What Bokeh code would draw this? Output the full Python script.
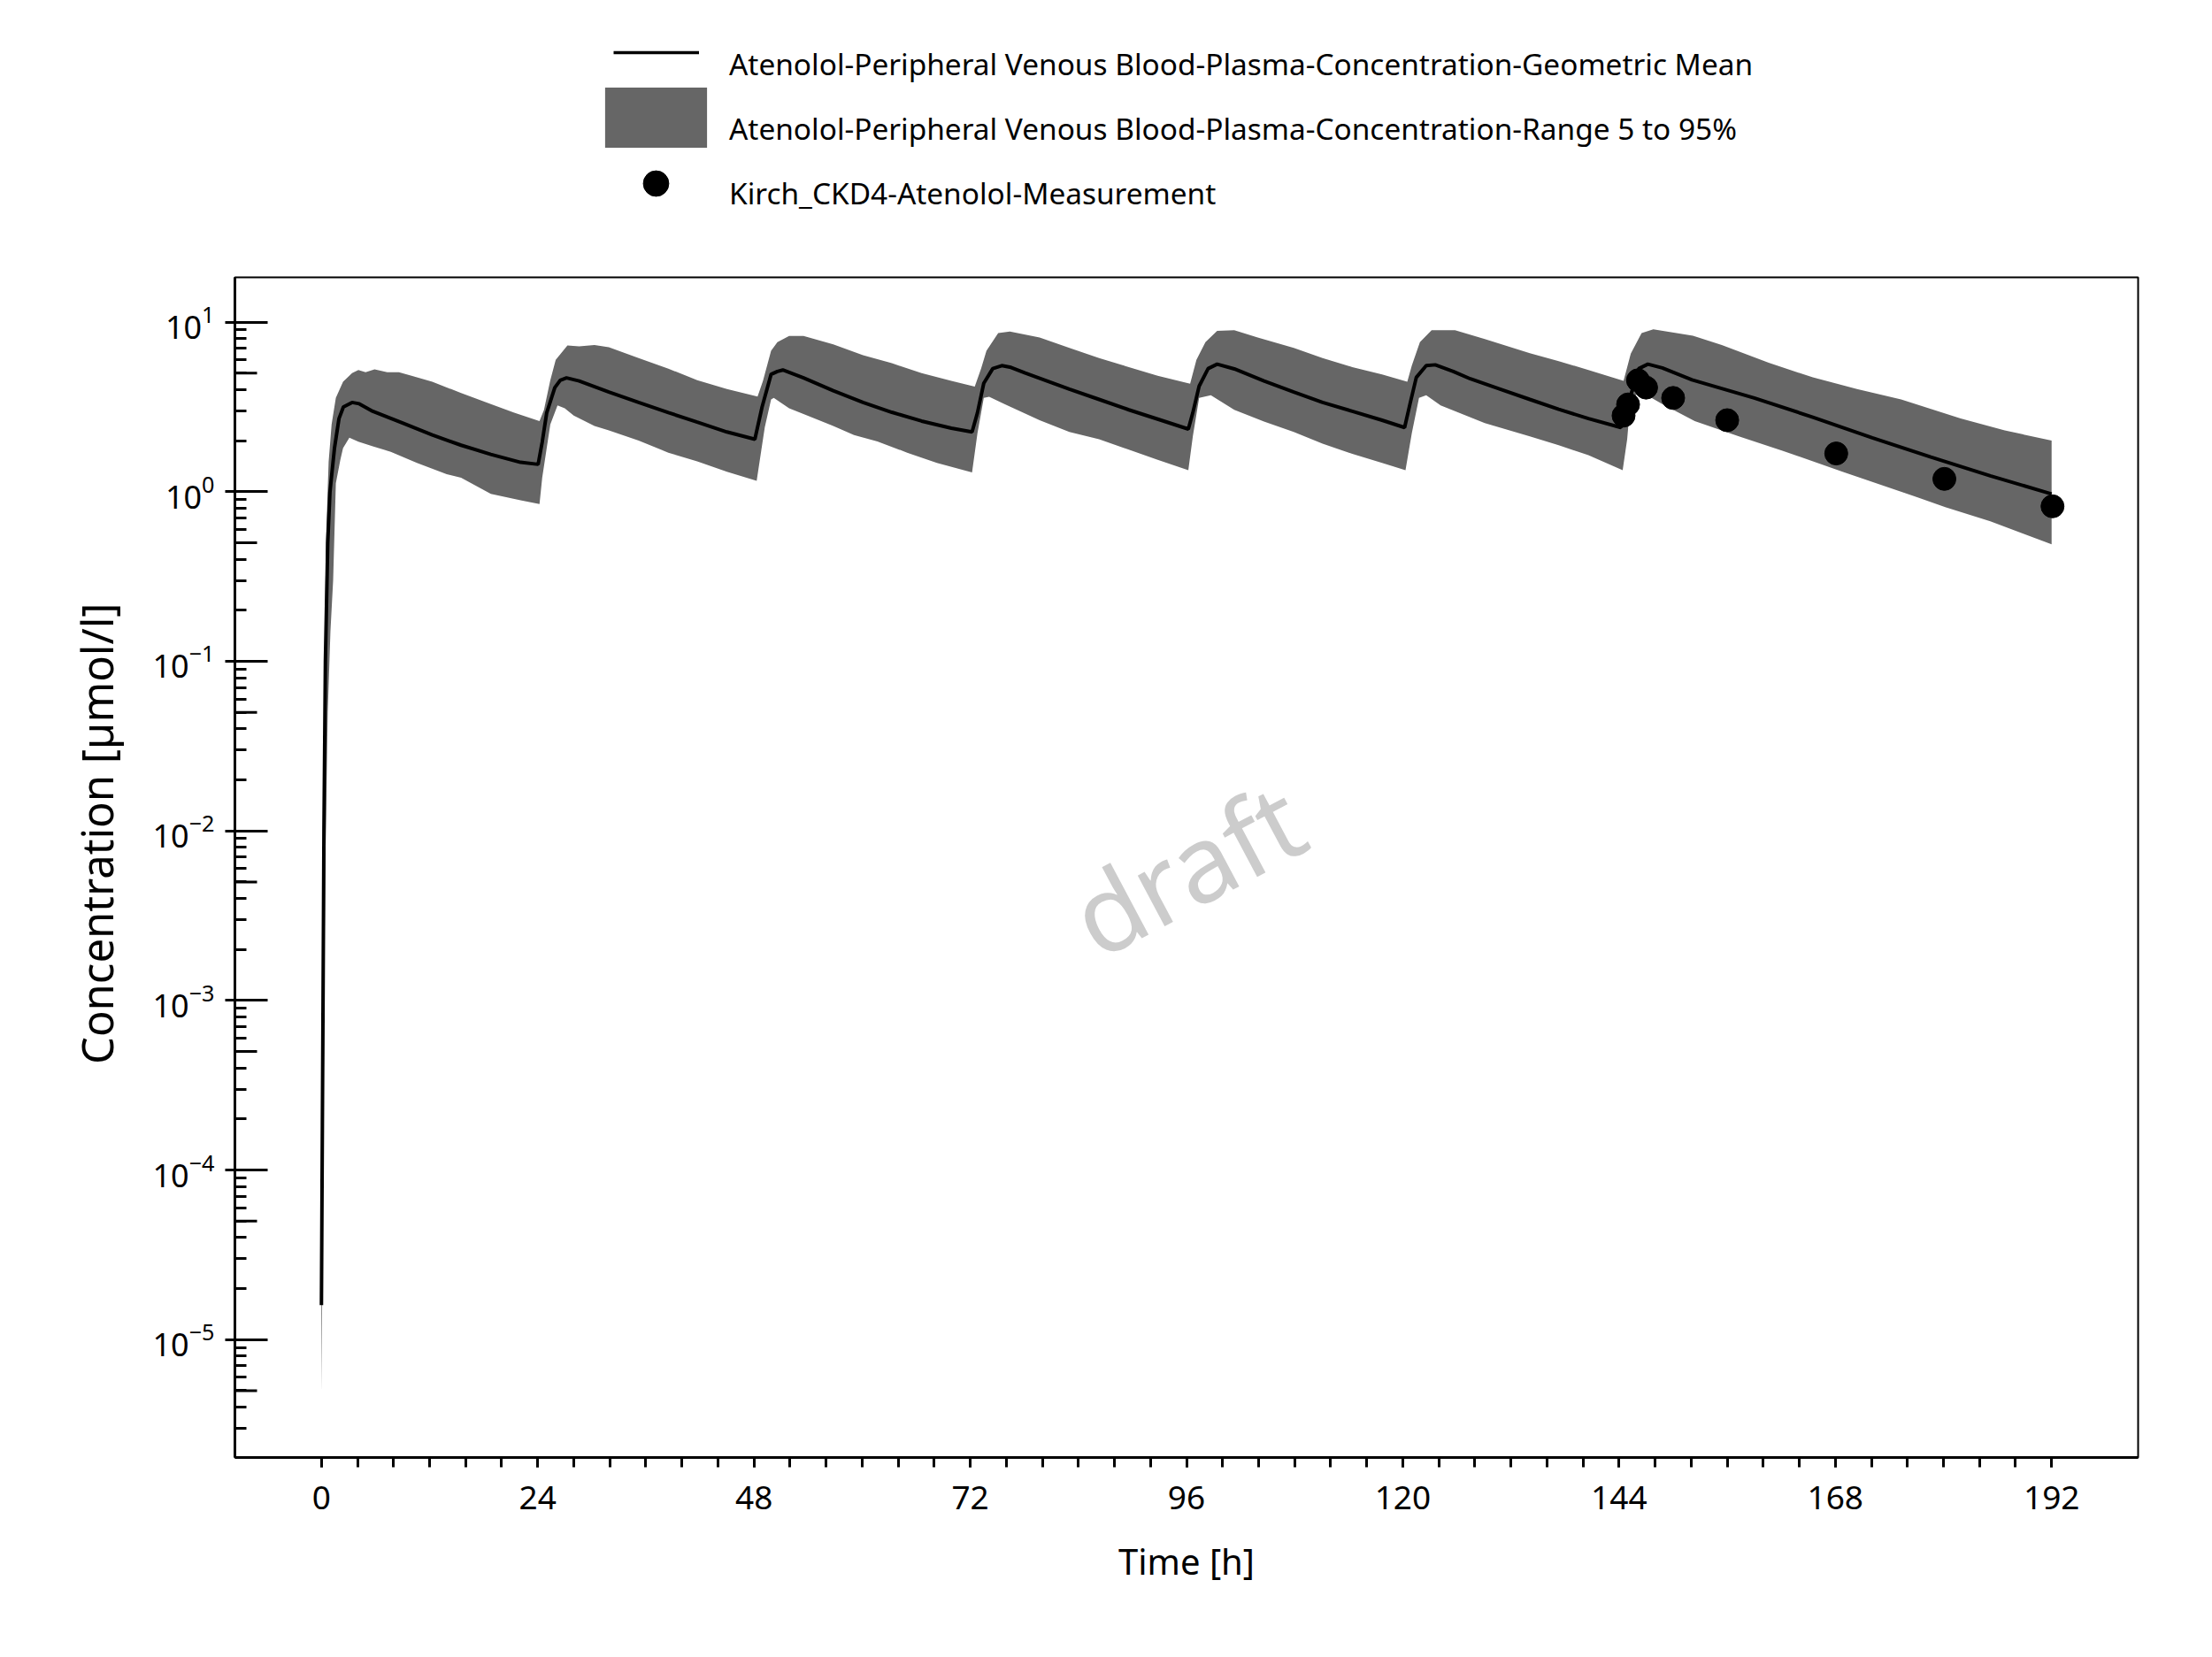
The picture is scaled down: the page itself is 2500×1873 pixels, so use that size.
from bokeh.plotting import figure
from bokeh.layouts import column
from bokeh.models import Range1d, FixedTicker, Legend, LegendItem, Label
from bokeh.embed import file_html
from bokeh.resources import INLINE

# ---------------- data ----------------
mean_t = [0, 0.18, 0.28, 0.44, 0.7, 0.95, 1.45, 1.95, 2.44, 3.4, 4.2, 5.7, 9.0, 12.3, 15.5, 18.8, 22.1, 24.05,
          24.5, 25.0, 25.9, 26.5, 27.2, 28.6, 31.9, 35.2, 38.5, 41.7, 45.0, 48.1,
          48.9, 49.9, 50.6, 51.2, 53.5, 56.8, 60.1, 63.3, 66.6, 69.9, 72.2,
          72.8, 73.5, 74.5, 75.5, 76.4, 78.1, 83.0, 86.3, 89.6, 92.8, 96.2,
          96.7, 97.4, 98.4, 99.4, 101.3, 104.6, 107.9, 111.1, 114.4, 117.7, 120.2,
          120.8, 121.5, 122.6, 123.6, 125.6, 127.5, 130.8, 134.1, 137.3, 140.6, 144.2,
          145.2, 146.2, 147.2, 148.8, 152.1, 159.0, 165.5, 172.1, 178.6, 185.2, 192.0]
mean_c = [1.6e-5, 1e-3, 1e-2, 0.1, 0.5, 1.0, 1.81, 2.70, 3.16, 3.36, 3.30, 2.98, 2.54, 2.16, 1.88, 1.66, 1.49, 1.45,
          1.96, 2.92, 4.11, 4.54, 4.69, 4.50, 3.87, 3.36, 2.93, 2.57, 2.25, 2.04,
          3.16, 4.92, 5.12, 5.22, 4.69, 3.94, 3.36, 2.94, 2.61, 2.37, 2.25,
          2.92, 4.36, 5.32, 5.54, 5.43, 5.01, 4.03, 3.50, 3.04, 2.68, 2.34,
          2.92, 4.19, 5.32, 5.65, 5.30, 4.50, 3.87, 3.36, 2.98, 2.64, 2.39,
          3.29, 4.72, 5.54, 5.60, 5.12, 4.63, 4.03, 3.50, 3.06, 2.70, 2.39,
          3.57, 5.32, 5.65, 5.37, 4.57, 3.57, 2.75, 2.08, 1.60, 1.24, 0.97]

upper_t = [0, 0.15, 0.3, 0.5, 0.8, 1.13, 1.6, 2.4, 3.4, 4.1, 4.9, 5.9, 7.3, 8.6, 10.0, 12.3, 15.5, 18.8, 21.4, 24.2,
           24.7, 25.4, 26.0, 27.3, 28.6, 30.3, 31.9, 35.2, 38.5, 41.7, 45.0, 48.4,
           49.0, 49.9, 50.6, 51.9, 53.5, 56.8, 60.1, 63.3, 66.6, 69.9, 72.5,
           73.2, 73.8, 75.1, 76.4, 79.7, 83.0, 86.3, 89.6, 92.8, 96.4,
           97.1, 98.1, 99.4, 101.3, 103.9, 107.9, 111.1, 114.4, 117.7, 120.5,
           121.0, 121.9, 123.2, 125.8, 129.1, 134.1, 137.3, 140.6, 144.5,
           145.3, 146.5, 147.8, 152.2, 155.4, 160.6, 165.5, 170.4, 175.3, 181.9, 186.8, 192.0]
upper_c = [1.8e-5, 2e-3, 0.05, 0.5, 1.5, 2.49, 3.57, 4.45, 5.01, 5.22, 5.07, 5.26, 5.06, 5.06, 4.82, 4.45, 3.82, 3.29, 2.92, 2.61,
           3.04, 4.54, 6.0, 7.28, 7.19, 7.33, 7.10, 6.13, 5.32, 4.54, 4.03, 3.64,
           4.5, 6.77, 7.63, 8.28, 8.28, 7.40, 6.38, 5.72, 5.01, 4.50, 4.16,
           5.32, 6.77, 8.61, 8.79, 8.11, 7.05, 6.13, 5.43, 4.82, 4.33,
           6.0, 7.63, 8.89, 8.97, 8.11, 7.05, 6.13, 5.43, 4.92, 4.45,
           5.54, 7.63, 8.97, 8.97, 7.95, 6.56, 5.89, 5.22, 4.50,
           6.51, 8.61, 9.07, 8.30, 7.33, 5.77, 4.72, 4.03, 3.50, 2.70, 2.30, 2.0]

lower_t = [0, 0.2, 0.4, 0.7, 1.0, 1.3, 1.6, 2.1, 2.4, 3.1, 4.1, 5.7, 7.7, 10.6, 13.9, 15.5, 18.8, 22.1, 24.2,
           24.5, 25.4, 26.2, 27.0, 28.0, 30.3, 31.9, 35.2, 38.5, 41.7, 45.0, 48.3,
           49.2, 49.9, 50.2, 51.9, 53.5, 56.8, 59.1, 61.7, 65.0, 68.3, 72.2,
           72.8, 73.5, 74.1, 75.8, 79.7, 83.0, 86.3, 89.6, 92.8, 96.2,
           96.7, 97.4, 98.7, 101.3, 104.6, 107.9, 111.1, 114.4, 117.7, 120.3,
           121.0, 121.8, 122.6, 124.2, 129.1, 134.1, 137.3, 140.6, 144.4,
           144.9, 145.3, 146.5, 148.8, 152.4, 157.3, 162.2, 168.8, 177.0, 180.2, 185.2, 192.0]
lower_c = [4.8e-6, 1e-4, 5e-3, 0.05, 0.15, 0.3, 1.12, 1.54, 1.81, 2.08, 1.97, 1.85, 1.72, 1.48, 1.27, 1.21, 0.97, 0.89, 0.845,
           1.21, 2.49, 3.23, 3.10, 2.81, 2.44, 2.30, 2.00, 1.70, 1.51, 1.31, 1.16,
           2.4, 3.50, 3.57, 3.10, 2.87, 2.44, 2.16, 1.98, 1.70, 1.48, 1.30,
           2.21, 3.57, 3.63, 3.29, 2.64, 2.25, 2.04, 1.77, 1.54, 1.34,
           2.12, 3.57, 3.71, 3.04, 2.59, 2.25, 1.92, 1.67, 1.48, 1.34,
           2.21, 3.57, 3.71, 3.23, 2.54, 2.12, 1.88, 1.64, 1.34,
           2.04, 3.57, 3.87, 3.29, 2.61, 2.12, 1.74, 1.31, 0.93, 0.81, 0.67, 0.49]

obs_t = [144.5, 145.0, 146.1, 147.0, 150.0, 156.0, 168.1, 180.1, 192.1]
obs_c = [2.81, 3.27, 4.54, 4.11, 3.57, 2.64, 1.68, 1.19, 0.82]

x_major_ticks = [0, 24, 48, 72, 96, 120, 144, 168, 192]
x_minor_ticks = list(range(0, 193, 4))
y_major_ticks = [1e-5, 1e-4, 1e-3, 1e-2, 1e-1, 1e0, 1e1]
y_minor_ticks = [m * 10.0 ** e for e in range(-6, 2) for m in range(2, 10)]
y_mid_ticks = [5 * 10.0 ** e for e in range(-6, 1)]

label_mean = "Atenolol-Peripheral Venous Blood-Plasma-Concentration-Geometric Mean"
label_band = "Atenolol-Peripheral Venous Blood-Plasma-Concentration-Range 5 to 95%"
label_obs = "Kirch_CKD4-Atenolol-Measurement"

FONT = "Noto Sans"
BAND_COLOR = "#666666"
NBSP = "\u00a0"
X0, X1 = -9.6, 201.6
LY0, LY1 = -5.695, 1.264
Y0, Y1 = 10 ** LY0, 10 ** LY1

# ---------------- main plot ----------------
p = figure(width=2480, height=1545, x_range=Range1d(X0, X1), y_range=Range1d(Y0, Y1),
           y_axis_type="log", output_backend="svg", toolbar_location=None,
           min_border_left=265, min_border_right=64, min_border_top=8, min_border_bottom=203)
p.grid.visible = False
p.outline_line_color = "black"
p.outline_line_width = 2
p.background_fill_color = "white"

band = p.patch(x=upper_t + lower_t[::-1], y=upper_c + lower_c[::-1],
               fill_color=BAND_COLOR, line_color=None)
mean = p.line(mean_t, mean_c, line_color="black", line_width=4)
obs = p.scatter(obs_t, obs_c, size=26, color="black")

# medium ticks at 5 x 10^k on the y axis
p.ray(x=[X0] * len(y_mid_ticks), y=y_mid_ticks, length=25, length_units="screen",
      angle=0, line_color="black", line_width=3)

xa = p.xaxis[0]
xa.ticker = FixedTicker(ticks=x_major_ticks, minor_ticks=x_minor_ticks)
xa.axis_label = "Time [h]"
xa.major_tick_in = 0
xa.major_tick_out = 11
xa.minor_tick_in = 0
xa.minor_tick_out = 11
xa.major_label_standoff = 21
xa.axis_label_standoff = 28
xa.axis_label_text_font_size = "40px"
xa.major_label_text_font_size = "37px"

ya = p.yaxis[0]
ya.ticker = FixedTicker(ticks=y_major_ticks, minor_ticks=y_minor_ticks)
ya.axis_label = NBSP * 6 + "Concentration [µmol/l]"
ya.major_tick_in = 37
ya.major_tick_out = 11
ya.minor_tick_in = 13
ya.minor_tick_out = 0
ya.major_label_standoff = 12
ya.axis_label_standoff = 28
ya.axis_label_text_font_size = "49px"
ya.major_label_text_font_size = "36px"

for ax in (xa, ya):
    ax.axis_line_width = 3
    ax.axis_line_color = "black"
    ax.major_tick_line_width = 3
    ax.minor_tick_line_width = 3
    ax.major_tick_line_color = "black"
    ax.minor_tick_line_color = "black"
    ax.major_label_text_font = FONT
    ax.major_label_text_color = "black"
    ax.axis_label_text_font = FONT
    ax.axis_label_text_font_style = "normal"
    ax.axis_label_text_color = "black"

p.add_layout(Label(x=(X0 + X1) / 2, y=10 ** ((LY0 + LY1) / 2), text="draft", angle=28,
                   angle_units="deg", text_align="center", text_baseline="middle",
                   text_font=FONT, text_font_size="121px", text_color="#cccccc"))

# ---------------- legend strip above the plot ----------------
lf = figure(width=2480, height=305, x_range=Range1d(0, 1), y_range=Range1d(0, 1),
            output_backend="svg", toolbar_location=None,
            x_axis_location=None, y_axis_location=None,
            min_border_left=265, min_border_right=64, min_border_top=0, min_border_bottom=0)
lf.grid.visible = False
lf.outline_line_color = None

# legend proxies: same styles as the plot renderers, one point placed outside the strip's view
OFF = [-5.0, -4.0, -4.0]
p_mean = lf.line(x=OFF[:2], y=OFF[:2], line_color="black", line_width=3.5)
p_band = lf.patch(x=OFF, y=[-5.0, -5.0, -4.0], fill_color=BAND_COLOR, line_color=None)
p_obs = lf.scatter(x=OFF[:1], y=OFF[:1], color="black")
# text-only proxies (no data, so only their labels are drawn)
t_mean = lf.line(x=[], y=[])
t_band = lf.line(x=[], y=[])
t_obs = lf.line(x=[], y=[])

COMMON = dict(padding=0, margin=0, border_line_color=None, background_fill_alpha=0,
              label_text_font=FONT, label_text_font_size="33.4px", label_text_color="black")

def glyph_legend(rend, loc, gw, gh):
    lf.add_layout(Legend(items=[LegendItem(label=" ", renderers=[rend])], location=loc,
                         glyph_width=gw, glyph_height=gh, label_standoff=0, spacing=0, **COMMON))

glyph_legend(p_mean, (428, 226), 97, 40)
glyph_legend(p_band, (404, 130), 144, 85)
glyph_legend(p_obs, (440, 62), 72, 72)

lf.add_layout(Legend(items=[LegendItem(label=label_mean, renderers=[t_mean]),
                            LegendItem(label=label_band, renderers=[t_band]),
                            LegendItem(label=label_obs, renderers=[t_obs])],
                     location=(559, 57), glyph_width=0, glyph_height=60, spacing=13,
                     label_standoff=0, **COMMON))

layout = column(lf, p, spacing=0)
open("out.html", "w").write(file_html(layout, INLINE))
